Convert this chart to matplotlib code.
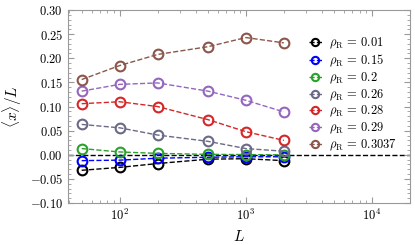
import matplotlib
matplotlib.use('Agg')
import matplotlib.pyplot as plt
from matplotlib.ticker import MultipleLocator

plt.rcParams['font.family'] = 'serif'
plt.rcParams['font.serif'] = ['cmr10', 'DejaVu Serif']
plt.rcParams['mathtext.fontset'] = 'cm'
plt.rcParams['axes.formatter.use_mathtext'] = True
plt.rcParams['axes.unicode_minus'] = True

L = [50, 100, 200, 500, 1000, 2000]
rho = ['0.01', '0.15', '0.2', '0.26', '0.28', '0.29', '0.3037']
x_001 = [-0.032, -0.026, -0.018, -0.009, -0.008, -0.012]
x_015 = [-0.012, -0.011, -0.007, -0.005, -0.004, -0.004]
x_020 = [0.013, 0.006, 0.003, 0.001, 0.0005, 0.0]
x_026 = [0.063, 0.056, 0.041, 0.028, 0.013, 0.0075]
x_028 = [0.106, 0.110, 0.100, 0.073, 0.048, 0.030]
x_029 = [0.132, 0.146, 0.149, 0.132, 0.113, 0.089]
x_0304 = [0.156, 0.185, 0.208, 0.224, 0.243, 0.232]

series = [x_001, x_015, x_020, x_026, x_028, x_029, x_0304]
colors = ['black', 'blue', 'tab:green', '#6a6a88', 'tab:red', 'tab:purple', 'tab:brown']

fig = plt.figure(figsize=(4.15, 2.45), dpi=100)
ax = fig.add_axes([0.164, 0.171, 0.824, 0.788])

for r, y, c in zip(rho, series, colors):
    ax.plot(L, y, '--', color=c, lw=1.0, marker='o', ms=7, mfc='none', mew=1.5,
            label=r'$\rho_{\rm R}\,=\,%s$' % r)

ax.axhline(0, color='black', ls='--', lw=1.0, zorder=0)

ax.set_xscale('log')
ax.set_xlim(39, 2e4)
ax.set_ylim(-0.10, 0.30)
ax.yaxis.set_major_locator(MultipleLocator(0.05))
ax.yaxis.set_minor_locator(MultipleLocator(0.01))
ax.yaxis.set_major_formatter(plt.FuncFormatter(lambda v, p: r'$%.2f$' % v))

for s in ax.spines.values():
    s.set_color('#999999')
ax.tick_params(which='both', direction='in', top=True, right=True, color='#999999', labelsize=9)
ax.tick_params(which='major', length=4)
ax.tick_params(which='minor', length=2)

ax.set_xlabel(r'$L$', fontsize=11)
ax.set_ylabel(r'$\langle x \rangle / L$', fontsize=11)

ax.legend(loc='upper right', bbox_to_anchor=(0.995, 0.925), frameon=False, fontsize=9,
          handlelength=1.0, handletextpad=0.6, labelspacing=0.12, markerscale=0.75)

fig.savefig('out.png', dpi=100)
